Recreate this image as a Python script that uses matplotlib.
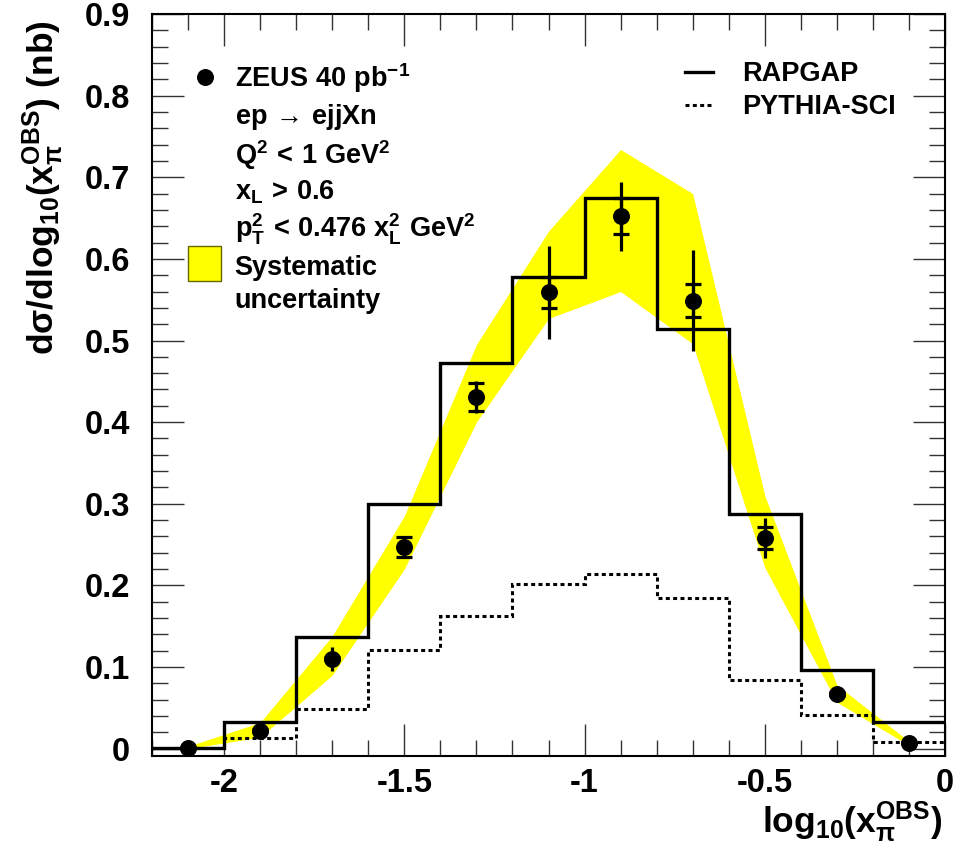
import numpy as np
import matplotlib
matplotlib.use("Agg")
import matplotlib.pyplot as plt
from matplotlib.lines import Line2D
from matplotlib.patches import Patch, Rectangle
from matplotlib.legend_handler import HandlerPatch
from matplotlib.ticker import MultipleLocator, FuncFormatter

# ---------------- data ----------------
bin_edges = [-2.2, -2.0, -1.8, -1.6, -1.4, -1.2, -1.0, -0.8, -0.6, -0.4, -0.2, 0.0]
x_centers = [-2.1, -1.9, -1.7, -1.5, -1.3, -1.1, -0.9, -0.7, -0.5, -0.3, -0.1]

zeus_data = [0.001, 0.022, 0.110, 0.247, 0.431, 0.559, 0.652, 0.549, 0.258, 0.067, 0.007]
zeus_stat = [0.001, 0.002, 0.002, 0.012, 0.017, 0.019, 0.022, 0.020, 0.014, 0.002, 0.001]
zeus_total = [0.002, 0.004, 0.015, 0.014, 0.020, 0.057, 0.042, 0.062, 0.025, 0.005, 0.003]

sys_upper = [0.003, 0.032, 0.138, 0.285, 0.495, 0.634, 0.734, 0.680, 0.310, 0.078, 0.009]
sys_lower = [0.000, 0.014, 0.090, 0.220, 0.400, 0.527, 0.560, 0.496, 0.222, 0.057, 0.004]

rapgap = [0.001, 0.033, 0.137, 0.300, 0.473, 0.578, 0.675, 0.514, 0.288, 0.096, 0.033]
pythia = [0.001, 0.0135, 0.048, 0.121, 0.163, 0.202, 0.214, 0.185, 0.084, 0.041, 0.008]

x_label = r"$log_{10}(x_{\pi}^{OBS})$"
y_label = r"$d\sigma/dlog_{10}(x_{\pi}^{OBS})\ (nb)$"
left_legend_labels = [
    r"$ZEUS\ 40\ pb^{-1}$",
    r"$ep\,\rightarrow\,ejjXn$",
    r"$Q^{2}\,<\,1\ GeV^{2}$",
    r"$x_{L}\,>\,0.6$",
    r"$p_{T}^{2}\,<\,0.476\ x_{L}^{2}\ GeV^{2}$",
    "Systematic",
    "uncertainty",
]
right_legend_labels = ["RAPGAP", "PYTHIA-SCI"]

# ---------------- style ----------------
plt.rcParams.update({
    "font.family": ["Liberation Sans", "DejaVu Sans"],
    "font.weight": "bold",
    "mathtext.fontset": "custom",
    "mathtext.rm": "Liberation Sans:bold",
    "mathtext.it": "Liberation Sans:bold",
    "mathtext.bf": "Liberation Sans:bold",
    "mathtext.sf": "Liberation Sans:bold",
    "mathtext.default": "rm",
})

W, H = 955, 852
fig = plt.figure(figsize=(W / 100, H / 100), dpi=100)
ax = fig.add_axes([152 / W, 1 - 756 / H, (945 - 152) / W, (756 - 14) / H])

dotted = (0, (1.3, 1.1))

ax.fill_between(x_centers, sys_lower, sys_upper, color="#ffff00", lw=0, zorder=1)
ax.stairs(pythia, bin_edges, baseline=None, color="k", lw=2.2, ls=dotted, zorder=2)
ax.stairs(rapgap, bin_edges, baseline=None, color="k", lw=2.4, zorder=3)
ax.errorbar(x_centers, zeus_data, yerr=zeus_total, fmt="none", ecolor="k",
            elinewidth=2.3, capsize=0, zorder=4)
ax.errorbar(x_centers, zeus_data, yerr=zeus_stat, fmt="o", color="k", ms=11.2,
            elinewidth=2.3, capsize=5.8, capthick=2.3, zorder=5)

ax.set_xlim(-2.2, 0.0)
ax.set_ylim(-0.009, 0.9)
ax.xaxis.set_major_locator(MultipleLocator(0.5))
ax.xaxis.set_minor_locator(MultipleLocator(0.1))
ax.yaxis.set_major_locator(MultipleLocator(0.1))
ax.yaxis.set_minor_locator(MultipleLocator(0.02))
fmt = FuncFormatter(lambda v, p: "%g" % (round(v, 3) + 0.0))
ax.xaxis.set_major_formatter(fmt)
ax.yaxis.set_major_formatter(fmt)
ax.tick_params(which="both", direction="in", top=True, right=True,
               width=1.0, color="#333333")
ax.tick_params(which="major", length=23)
ax.tick_params(which="minor", length=11.5)
ax.tick_params(axis="x", labelsize=23.5, pad=9)
ax.tick_params(axis="y", labelsize=23.5, pad=16)
for s in ax.spines.values():
    s.set_linewidth(1.5)

ax.set_xlabel(x_label, loc="right", fontsize=25.5)
ax.xaxis.set_label_coords(0.997, -0.058)
ax.set_ylabel(y_label, loc="top", fontsize=25.5)
ax.yaxis.set_label_coords(-0.108, 0.992)


# ---------------- legends ----------------
def tall_box(legend, orig_handle, xdescent, ydescent, width, height, fontsize):
    extra = 0.45 * height
    return Rectangle((-xdescent, -ydescent - extra / 2 + 0.1 * height), width, height + extra)


blank = Patch(facecolor="none", edgecolor="none")
h_data = Line2D([], [], marker="o", color="k", ls="none", ms=11.2)
h_sys = Patch(facecolor="#ffff00", edgecolor="#666600", lw=1)
leg1 = ax.legend([h_data, blank, blank, blank, blank, h_sys, blank], left_legend_labels,
                 loc="upper left", bbox_to_anchor=(0.0454, 0.936), frameon=False,
                 fontsize=19.5, borderpad=0, borderaxespad=0, handlelength=1.22,
                 handleheight=1.0, handletextpad=0.5, labelspacing=0.23,
                 handler_map={h_sys: HandlerPatch(patch_func=tall_box)})
ax.add_artist(leg1)
h_rap = Line2D([], [], color="k", lw=2.4)
h_pyt = Line2D([], [], color="k", lw=2.2, ls=dotted)
ax.legend([h_rap, h_pyt], right_legend_labels, loc="upper left",
          bbox_to_anchor=(0.672, 0.936), frameon=False, fontsize=19.5, borderpad=0,
          borderaxespad=0, handlelength=1.05, handletextpad=1.08, labelspacing=0.25)

fig.savefig("out.png", dpi=100)
